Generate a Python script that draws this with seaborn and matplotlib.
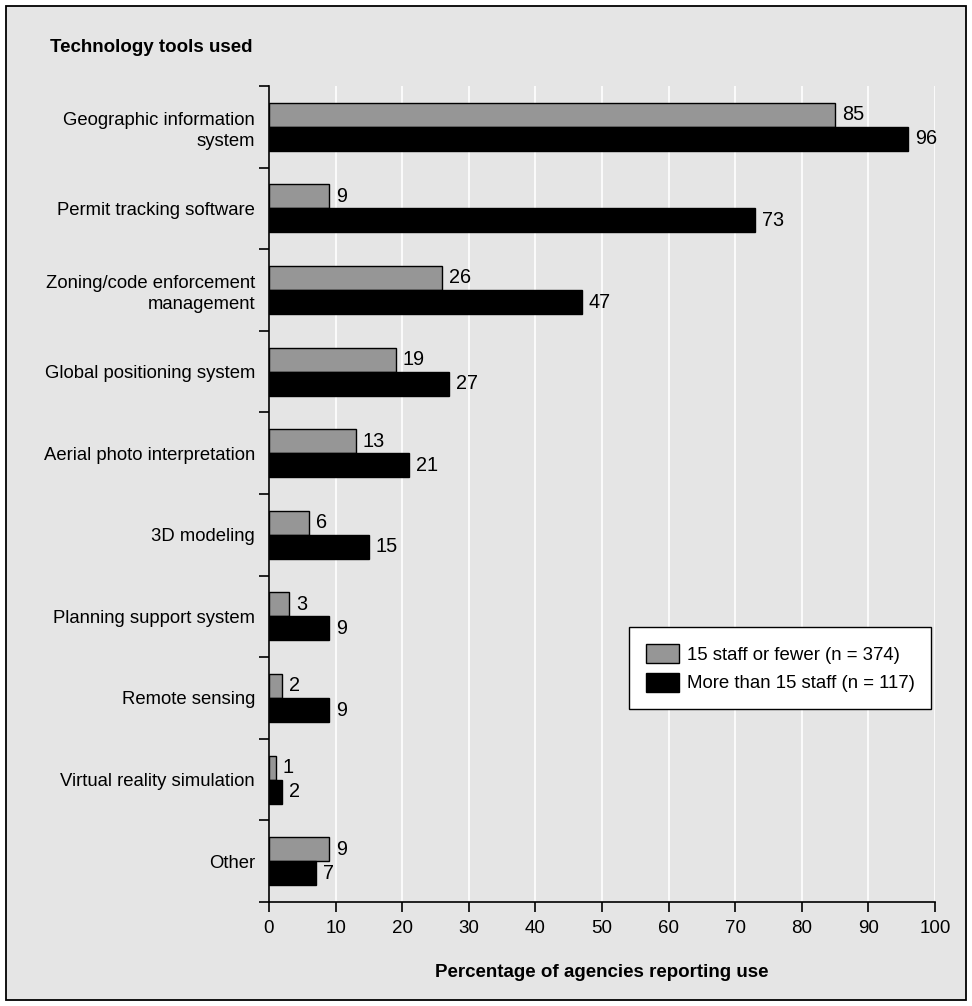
import matplotlib
matplotlib.use("Agg")
import matplotlib.pyplot as plt
import seaborn as sns
import pandas as pd
from matplotlib.patches import Rectangle
from matplotlib.ticker import FixedLocator

categories = ["Geographic information\nsystem", "Permit tracking software",
              "Zoning/code enforcement\nmanagement", "Global positioning system",
              "Aerial photo interpretation", "3D modeling", "Planning support system",
              "Remote sensing", "Virtual reality simulation", "Other"]
series_names = ["15 staff or fewer (n = 374)", "More than 15 staff (n = 117)"]
small_staff = [85, 9, 26, 19, 13, 6, 3, 2, 1, 9]
large_staff = [96, 73, 47, 27, 21, 15, 9, 9, 2, 7]
x_ticks = [0, 10, 20, 30, 40, 50, 60, 70, 80, 90, 100]

df = pd.DataFrame({
    "tool": categories * 2,
    "group": [series_names[0]] * len(categories) + [series_names[1]] * len(categories),
    "value": small_staff + large_staff,
})

sns.set_theme(style="white")
plt.rcParams['font.family'] = ['Liberation Sans', 'DejaVu Sans']
plt.rcParams['text.color'] = 'black'
plt.rcParams['xtick.color'] = 'black'
plt.rcParams['ytick.color'] = 'black'
plt.rcParams['axes.labelcolor'] = 'black'

BG = "#e5e5e5"
W, H = 972, 1006
fig = plt.figure(figsize=(W / 100, H / 100), dpi=100, facecolor="white")
border = Rectangle((6 / W, 6 / H), 960 / W, 994 / H,
                   transform=fig.transFigure, facecolor=BG,
                   edgecolor="black", linewidth=1.3, zorder=-10)
fig.patches.append(border)
ax = fig.add_axes([269 / W, 1 - 902 / H, (935 - 269) / W, (902 - 86) / H])
ax.set_facecolor(BG)

sns.barplot(data=df, y="tool", x="value", hue="group", orient="h",
            palette=["#969696", "#000000"], edgecolor="black", linewidth=1.0,
            width=0.59, ax=ax, order=categories, hue_order=series_names)

for cont in ax.containers:
    ax.bar_label(cont, padding=5, fontsize=14.3, color="black")

ax.set_xlim(0, 100)
ax.set_ylim(9.5, -0.5)
ax.set_xticks(x_ticks)
ax.set_xticklabels([str(t) for t in x_ticks], fontsize=13.5)
ax.xaxis.grid(True, color="white", linewidth=1.2)
ax.set_axisbelow(True)
ax.tick_params(axis="x", which="major", bottom=True, direction="out", length=7,
               width=1.2, color="black", pad=6)
ax.tick_params(axis="y", which="major", left=True, length=0, pad=10, labelsize=13.3)
ax.yaxis.set_minor_locator(FixedLocator([i - 0.5 for i in range(len(categories) + 1)]))
ax.tick_params(axis="y", which="minor", left=True, direction="out", length=7,
               width=1.2, color="black")
for lbl in ax.get_yticklabels():
    lbl.set_multialignment("right")
    lbl.set_linespacing(1.3)

for s in ["top", "right"]:
    ax.spines[s].set_visible(False)
for s in ["left", "bottom"]:
    ax.spines[s].set_color("black")
    ax.spines[s].set_linewidth(1.2)

ax.set_ylabel("")
ax.set_xlabel("Percentage of agencies reporting use", fontsize=13.5, fontweight="bold")
ax.xaxis.set_label_coords(0.5, -(977 - 902) / (902 - 86))
ax.xaxis.label.set_va("baseline")

fig.text(50 / W, 1 - 47 / H, "Technology tools used", fontsize=13.5,
         fontweight="bold", ha="left", va="center", color="black")

leg = ax.legend(loc="upper left", bbox_to_anchor=(629 / W, 1 - 627 / H),
                bbox_transform=fig.transFigure,
                frameon=True, fancybox=False, edgecolor="black", facecolor="white",
                framealpha=1, fontsize=13.4, handlelength=1.78, handleheight=1.2,
                borderpad=0.9, labelspacing=0.48, handletextpad=0.42, borderaxespad=0)
leg.get_frame().set_linewidth(1.0)
for p in leg.get_patches():
    p.set_edgecolor("black")
    p.set_linewidth(1.0)

fig.savefig("out.png", dpi=100, facecolor="white")
